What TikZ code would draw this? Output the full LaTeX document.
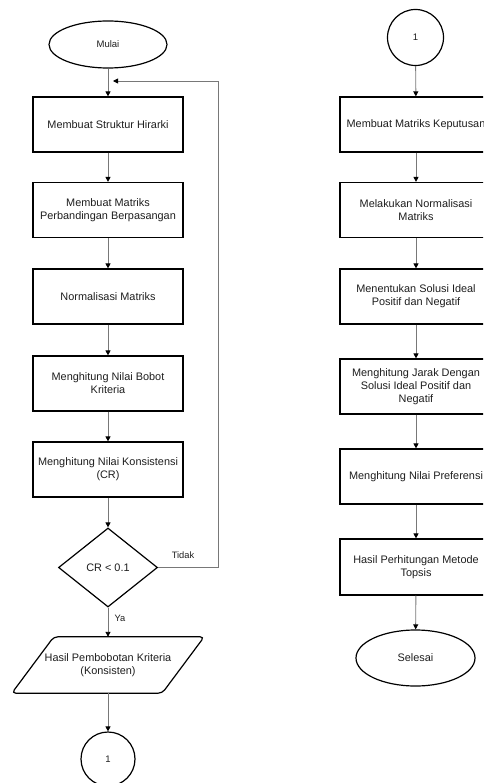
\documentclass[tikz,border=0pt]{standalone}
\usepackage{fontspec}
\setmainfont{Liberation Sans}
\usetikzlibrary{shapes.geometric,arrows.meta,calc}
\definecolor{linegray}{RGB}{120,120,120}
\definecolor{ink}{RGB}{30,30,30}
\begin{document}
\begin{tikzpicture}[x=1pt,y=-1pt,
  every node/.style={text=ink,font=\fontsize{10.9}{12.8}\selectfont,align=center},
  procbox/.style={draw=black,line width=1.2pt,rectangle,minimum width=150pt,minimum height=55pt,inner sep=0pt},
  terminal/.style={draw=black,line width=1.2pt,ellipse,inner sep=0pt},
  connector/.style={draw=black,line width=1.2pt,circle,minimum size=55pt,inner sep=0pt,font=\fontsize{9.5}{11}\selectfont},
  decision/.style={draw=black,line width=1.2pt,diamond,minimum width=99pt,minimum height=79pt,inner sep=0pt},
  flow/.style={draw=linegray,line width=0.9pt,-{Triangle[length=5pt,width=5pt,color=black]}},
  plain/.style={draw=linegray,line width=0.9pt},
  edgelabel/.style={font=\fontsize{9.3}{11}\selectfont}]
\useasboundingbox (0,0) rectangle (483,783);
\clip (0,0) rectangle (483,783);

% left column: AHP weighting
\node[terminal,minimum width=118pt,minimum height=47pt,font=\fontsize{9.5}{11}\selectfont] (mulai) at (108,44.5) {Mulai};
\node[procbox] (b1) at (108,124.5) {Membuat Struktur Hirarki};
\node[procbox] (b2) at (108,210) {Membuat Matriks\\Perbandingan Berpasangan};
\node[procbox] (b3) at (108,296.5) {Normalisasi Matriks};
\node[procbox] (b4) at (108,383.5) {Menghitung Nilai Bobot\\Kriteria};
\node[procbox] (b5) at (108,469.5) {Menghitung Nilai Konsistensi\\(CR)};
\node[decision] (dec) at (108,567.5) {CR < 0.1};
\node[minimum width=150pt,minimum height=56pt,inner sep=0pt] (par) at (108,665) {Hasil Pembobotan Kriteria\\(Konsisten)};
\draw[black,line width=1.2pt,rounded corners=4pt]
  ($(par.south west)+(-21,0)$) -- ($(par.north west)+(21,0)$) --
  ($(par.north east)+(21,0)$) -- ($(par.south east)+(-21,0)$) -- cycle;
\node[connector,minimum size=54pt] (c1) at (108,759) {1};

\draw[flow] (mulai) -- (b1);
\draw[flow] (b1) -- (b2);
\draw[flow] (b2) -- (b3);
\draw[flow] (b3) -- (b4);
\draw[flow] (b4) -- (b5);
\draw[flow] (b5) -- (dec);
\draw[flow] (dec) -- (par);
\draw[flow] (par) -- (c1);

% loop back when the ratio is not consistent
\coordinate (loopcorner) at (218,81);
\coordinate (loopend) at (113,81);
\draw[plain] (dec.east) -| (loopcorner);
\draw[flow] (loopcorner) -- (loopend);
\node[edgelabel] (tidak) at (183,555) {Tidak};
\node[edgelabel] (ya) at (120,618) {Ya};

% right column: TOPSIS ranking
\node[connector,minimum size=56pt] (c2) at (415.5,37.5) {1};
\node[procbox,minimum width=152pt] (r1) at (416,124.5) {Membuat Matriks Keputusan};
\node[procbox,minimum width=152pt] (r2) at (416,210) {Melakukan Normalisasi\\Matriks};
\node[procbox,minimum width=152pt] (r3) at (416,296.5) {Menentukan Solusi Ideal\\Positif dan Negatif};
\node[procbox,minimum width=152pt] (r4) at (416,386.5) {Menghitung Jarak Dengan\\Solusi Ideal Positif dan\\Negatif};
\node[procbox,minimum width=152pt] (r5) at (416,476.5) {Menghitung Nilai Preferensi};
\node[procbox,minimum width=152pt,minimum height=56pt] (r6) at (416,567) {Hasil Perhitungan Metode\\Topsis};
\node[terminal,minimum width=119pt,minimum height=56pt] (selesai) at (415.5,658) {Selesai};

\draw[flow] (c2) -- (r1);
\draw[flow] (r1) -- (r2);
\draw[flow] (r2) -- (r3);
\draw[flow] (r3) -- (r4);
\draw[flow] (r4) -- (r5);
\draw[flow] (r5) -- (r6);
\draw[flow] (r6) -- (selesai);
\end{tikzpicture}
\end{document}
